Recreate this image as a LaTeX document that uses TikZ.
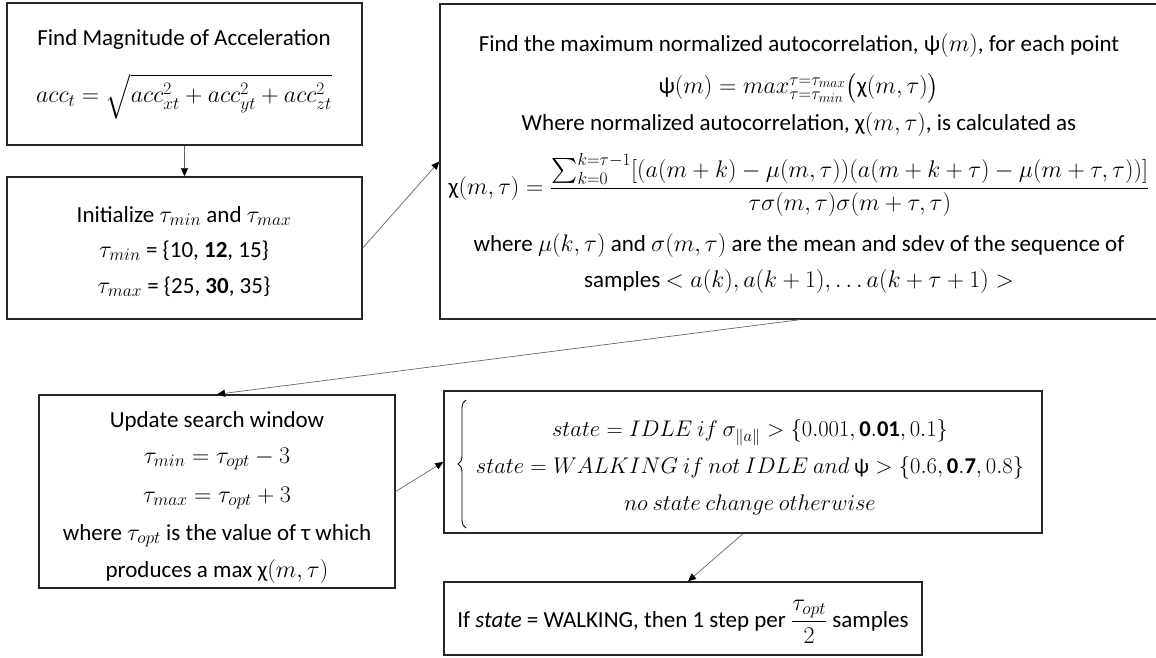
\RequirePackage{fix-cm}
\documentclass[tikz,border=0pt]{standalone}
\usepackage{amsmath}
\usepackage{fontspec}
\setmainfont{Carlito}
\usetikzlibrary{arrows.meta,decorations.pathreplacing}
\DeclareMathSizes{23}{24}{17.5}{13.5}
\DeclareMathSizes{21}{22.6}{16.5}{12.5}
\newcommand{\mysize}{\fontsize{23}{27}\selectfont}
\newcommand{\casesize}{\fontsize{21}{27}\selectfont}
\begin{document}
\begin{tikzpicture}[x=1pt,y=-1pt,
  box/.style={draw=black!85,line width=1.4pt,inner sep=0pt},
  txt/.style={font=\mysize,inner sep=0pt,anchor=base},
  conn/.style={draw=black!60,line width=0.7pt,-{Triangle[length=8pt,width=7pt,fill=black,color=black]}},
  bigbrace/.style={draw=black,line width=0.9pt,decorate,decoration={brace,amplitude=8pt}}]
\useasboundingbox (0,0) rectangle (1156,658);
% boxes
\node[box,minimum width=355pt,minimum height=142pt] (b1) at (184.5,74) {};
\node[box,minimum width=355pt,minimum height=142pt] (b2) at (184.5,248) {};
\node[box,minimum width=720pt,minimum height=315pt] (b3) at (800,161.5) {};
\node[box,minimum width=356pt,minimum height=193pt] (b4) at (217,491.5) {};
\node[box,minimum width=598pt,minimum height=142pt] (b5) at (743,462) {};
\node[box,minimum width=478pt,minimum height=73pt] (b6) at (683,618.5) {};
% box 1
\node[txt] (t1a) at (184,46) {Find Magnitude of Acceleration};
\node[txt] (t1b) at (184,103) {$acc_t = \sqrt{acc_{xt}^2 + acc_{yt}^2 + acc_{zt}^2}$};
% box 2
\node[txt] (t2a) at (184,222) {Initialize $\tau_{min}$ and $\tau_{max}$};
\node[txt] (t2b) at (184,257) {$\tau_{min}$ = \{10, \textbf{12}, 15\}};
\node[txt] (t2c) at (184,293) {$\tau_{max}$ = \{25, \textbf{30}, 35\}};
% box 3
\node[txt] (t3a) at (799,52) {Find the maximum normalized autocorrelation, ψ$(m)$, for each point};
\node[txt] (t3b) at (799,94) {ψ$(m) = max_{\tau=\tau_{min}}^{\tau=\tau_{max}}\bigl(\text{χ}(m,\tau)\bigr)$};
\node[txt] (t3c) at (799,131) {Where normalized autocorrelation, χ$(m,\tau)$, is calculated as};
\node[txt] (t3d) at (799,194) {χ$(m,\tau) = \dfrac{\sum\nolimits_{k=0}^{k=\tau-1}[(a(m+k)-\mu(m,\tau))(a(m+k+\tau)-\mu(m+\tau,\tau))]}{\tau\sigma(m,\tau)\sigma(m+\tau,\tau)}$};
\node[txt] (t3e) at (799,251) {where $\mu(k,\tau)$ and $\sigma(m,\tau)$ are the mean and sdev of the sequence of};
\node[txt] (t3f) at (799,287) {samples $< a(k), a(k+1), \ldots a(k+\tau+1) >$};
% box 4
\node[txt] (t4a) at (217,427) {Update search window};
\node[txt] (t4b) at (217,463) {$\tau_{min} = \tau_{opt} - 3$};
\node[txt] (t4c) at (217,502) {$\tau_{max} = \tau_{opt} + 3$};
\node[txt] (t4d) at (217,540) {where $\tau_{opt}$ is the value of τ which};
\node[txt] (t4e) at (217,577) {produces a max χ$(m,\tau)$};
% box 5
\draw[bigbrace] (466,528) -- (466,400);
\node[font=\casesize,inner sep=0pt] (t5) at (750,466) {$\renewcommand{\arraystretch}{1.36}\begin{array}{@{}c@{}}
state = IDLE\ if\ \sigma_{\|a\|} > \{0.001, \mathbf{0.01}, 0.1\}\\
state = WALKING\ if\ not\ IDLE\ and\ \text{ψ} > \{0.6, \mathbf{0.7}, 0.8\}\\
no\ state\ change\ otherwise
\end{array}$};
% box 6
\node[txt] (t6) at (683,627) {If \textit{state} = WALKING, then 1 step per $\dfrac{\tau_{opt}}{2}$ samples};
% connectors
\draw[conn] (b1.south) -- (b2.north);
\draw[conn] (b2.east) -- (b3.west);
\draw[conn] (b3.south) -- (b4.north);
\draw[conn] (b4.east) -- (b5.west);
\draw[conn] (b5.south) -- ([xshift=5pt]b6.north);
\end{tikzpicture}
\end{document}
